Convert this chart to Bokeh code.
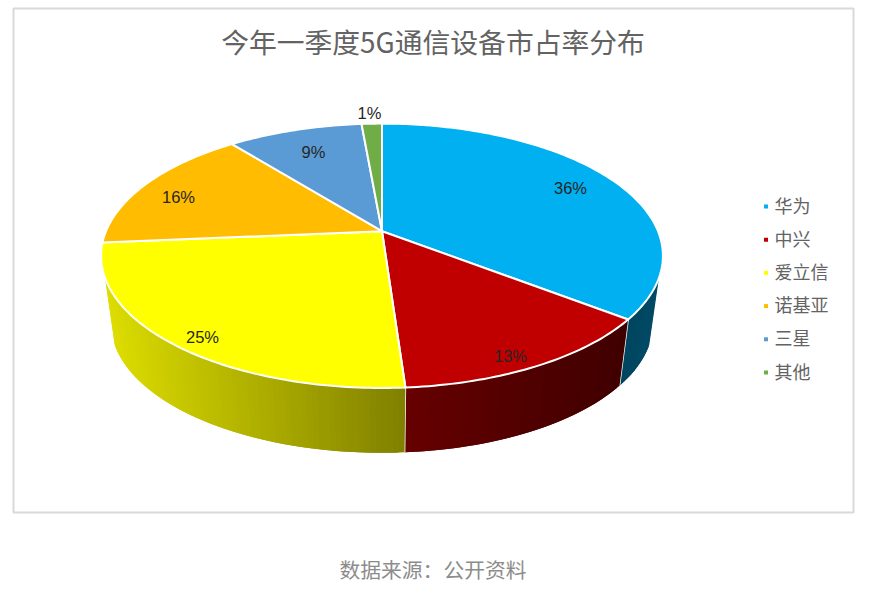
import math
from bokeh.plotting import figure
from bokeh.models import Range1d
from bokeh.core.properties import value
from bokeh.embed import file_html
from bokeh.resources import INLINE

TITLE = "今年一季度5G通信设备市占率分布"
SOURCE = "数据来源：公开资料"
categories = ["华为", "中兴", "爱立信", "诺基亚", "三星", "其他"]
shares = [35.5, 13.4, 24.7, 15.7, 9.3, 1.4]
top_colors = ["#00B0F0", "#C00000", "#FFFF00", "#FFBC00", "#5B9BD5", "#70AD47"]
# wall shading per wedge: colour at its left and right ends on screen
wall_left = ["#00455F", "#660000", "#DDDD00", "#8A6800", "#2F5B85", "#3F6A24"]
wall_right = ["#004A66", "#400000", "#808000", "#8A6800", "#2F5B85", "#3F6A24"]
label_xy = [(570, 187), (510, 355), (202, 336), (178, 196), (313, 151), (369, 112)]

# projection of the disc (page pixels)
CX, CY, A, B, K = 381.5, 230.7, 127.6, 276.0, 0.186
S_X, S_Y, DROP = 0.965, 0.98, 68.0
T_VIS0, T_VIS1 = 110.0, 250.0
CJK = value("Noto Sans CJK SC")


def rim(t_deg):
    t = math.radians(t_deg)
    w = 1 + K * math.cos(t)
    return CX + B * math.sin(t) / w, CY - A * math.cos(t) / w


def rim_low(t_deg):
    x, y = rim(t_deg)
    return CX + S_X * (x - CX), CY + DROP + S_Y * (y - CY)


def frange(a, b, step=1.0):
    n = max(1, int(math.ceil((b - a) / step)))
    return [a + (b - a) * i / n for i in range(n + 1)]


def mix(c1, c2, f):
    f = min(1.0, max(0.0, f))
    v = [int(c1[i:i + 2], 16) * (1 - f) + int(c2[i:i + 2], 16) * f for i in (1, 3, 5)]
    return "#%02x%02x%02x" % tuple(round(u) for u in v)


p = figure(width=865, height=586, output_backend="svg", toolbar_location=None,
           x_range=Range1d(0, 865), y_range=Range1d(586, 0),
           min_border=0, outline_line_color=None)
p.axis.visible = False
p.grid.visible = False
p.background_fill_color = "white"

p.quad(left=[13], right=[853], top=[8], bottom=[512], fill_color=None,
       line_color="#D9D9D9", line_width=2)

# wedge angles
total = sum(shares)
edges = [0.0]
for s in shares:
    edges.append(edges[-1] + 360.0 * s / total)

# walls, shaded by overlapping strips so no seams show
for i in range(len(shares)):
    a, b = max(edges[i], T_VIS0), min(edges[i + 1], T_VIS1)
    if a >= b:
        continue
    ts = frange(a, b, 1.0)
    lx = min(rim(a)[0], rim(b)[0])
    rx = max(rim(a)[0], rim(b)[0])
    xs, ys, cols = [], [], []
    for j in range(len(ts) - 1):
        t0, t1 = ts[j], ts[min(j + 2, len(ts) - 1)]
        p0, p1, q1, q0 = rim(t0), rim(t1), rim_low(t1), rim_low(t0)
        xs.append([p0[0], p1[0], q1[0], q0[0]])
        ys.append([p0[1], p1[1], q1[1], q0[1]])
        f = ((p0[0] + rim(ts[j + 1])[0]) / 2 - lx) / max(1.0, rx - lx)
        cols.append(mix(wall_left[i], wall_right[i], f))
    p.patches(xs, ys, fill_color=cols, line_color=None)
    # white edge between walls
    pa, qa = rim(b), rim_low(b)
    if b < T_VIS1:
        p.line([pa[0], qa[0]], [pa[1], qa[1]], line_color="white", line_width=1.5)

# top surface
for i, c in enumerate(top_colors):
    pts = [rim(t) for t in frange(edges[i], edges[i + 1], 1.0)]
    xs = [CX] + [q[0] for q in pts]
    ys = [CY] + [q[1] for q in pts]
    p.patch(xs, ys, fill_color=c, line_color="white", line_width=2, line_join="round")

# value labels
p.text([q[0] for q in label_xy], [q[1] for q in label_xy],
       text=["%.0f%%" % s for s in shares],
       text_font=value("Liberation Sans"), text_font_size="16.5px",
       text_color="#262626", text_align="center", text_baseline="middle")

# title and source
p.text([432.5], [40], text=[TITLE], text_font=CJK, text_font_size="27.8px",
       text_color="#636363", text_align="center", text_baseline="middle")
p.text([432.5], [568], text=[SOURCE], text_font=CJK, text_font_size="20.8px",
       text_color="#8C8C8C", text_align="center", text_baseline="middle")

# legend
leg_y = [206 + 33.2 * i for i in range(len(categories))]
p.scatter([765.5] * len(categories), leg_y, marker="square", size=4,
          fill_color=top_colors, line_color=None)
p.text([774] * len(categories), [y - 2 for y in leg_y], text=categories, text_font=CJK,
       text_font_size="18px", text_color="#636363", text_align="left",
       text_baseline="middle")

open("out.html", "w").write(file_html(p, INLINE))
